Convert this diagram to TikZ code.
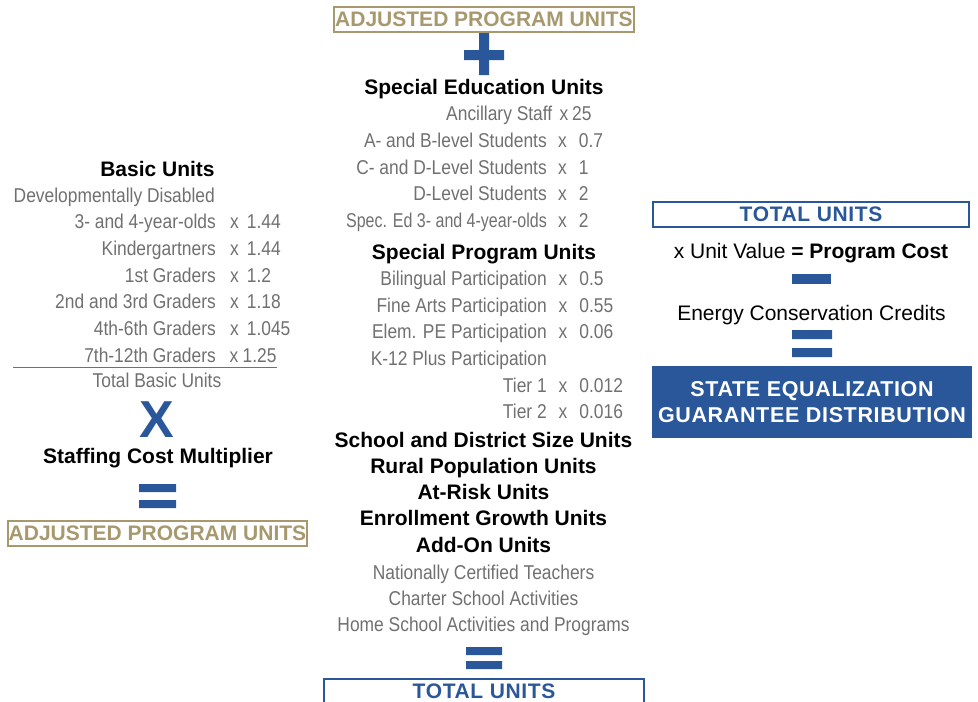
\documentclass[tikz,border=0pt]{standalone}
\usepackage{fontspec}
\setmainfont{Liberation Sans}
\newfontfamily\narrowfont[FakeStretch=0.87]{Liberation Sans}
\usepackage{tikz}
\usetikzlibrary{positioning}
\definecolor{unitblue}{RGB}{42,87,153}
\definecolor{unitgold}{RGB}{167,152,110}
\definecolor{unitgray}{RGB}{112,112,112}

\begin{document}
\begin{tikzpicture}
[x=1pt, y=-1pt,
headline/.style={inner sep=0pt, anchor=base, font=\fontsize{21}{25}\selectfont\bfseries},
plainline/.style={inner sep=0pt, anchor=base, font=\fontsize{21}{25}\selectfont},
itemline/.style={inner sep=0pt, anchor=base, text=unitgray, font=\fontsize{20}{24}\narrowfont},
itemname/.style={itemline, anchor=base east},
factor/.style={itemline, anchor=base west},
unitbox/.style={line width=2pt, inner sep=0pt, minimum height=25, font=\fontsize{21}{25}\selectfont\bfseries},
goldbox/.style={unitbox, draw=unitgold, text=unitgold},
bluebox/.style={unitbox, draw=unitblue, text=unitblue, font=\fontsize{21}{25}\selectfont\bfseries\addfontfeatures{LetterSpace=3}},
bar/.style={fill=unitblue},]
    \useasboundingbox (0,0) rectangle (978,702);

    % left column: basic units
    \node (basic) [headline] at (157.5,176) {Basic Units};
    \node (devdis) [itemline, anchor=base west] at (13.5,202.2) {Developmentally Disabled};
    \foreach \name/\y/\txt/\xat/\gap/\val in {
        age34/228.9/{3- and 4-year-olds}/230/8/1.44,
        kinder/255.5/Kindergartners/230/8/1.44,
        first/282.2/1st Graders/230/8/1.2,
        second/308.9/2nd and 3rd Graders/230/8/1.18,
        fourth/335.5/4th-6th Graders/230/8/1.045,
        seventh/362.2/7th-12th Graders/229.3/4.5/1.25}
    {
        \node (\name) [itemname] at (216,\y) {\txt};
        \node (\name-x) [factor] at (\xat,\y) {x\hspace{\gap pt}\val};
    }
    \draw [unitgray, line width=1.3pt] (13,367.7) -- (277,367.7);
    \node (totalbasic) [itemline] at (157,387.2) {Total Basic Units};
    \node (times) [inner sep=0pt, anchor=base, text=unitblue, font=\fontsize{52}{52}\selectfont\bfseries] at (156.5,437.5) {X};
    \node (staffing) [headline] at (158,463.5) {Staffing Cost Multiplier};
    \fill [bar] (139,484) rectangle (176,492) (139,500) rectangle (176,508);
    \node (apuleft) [goldbox, minimum width=299] at (157.5,533.5) {ADJUSTED PROGRAM UNITS};

    % middle column
    \node (aputop) [goldbox, minimum width=300] at (484,19.5) {ADJUSTED PROGRAM UNITS};
    \fill [bar] (464,50) rectangle (504,60) (479,33) rectangle (489,75);
    \node (specialed) [headline] at (484,94.5) {Special Education Units};
    \node (ancillary) [itemname] at (552.5,120.9) {Ancillary Staff};
    \node (ancillary-x) [factor] at (559.3,120.9) {x\hspace{4pt}25};
    \foreach \name/\y/\txt/\val in {
        levelab/147.5/{A- and B-level Students}/0.7,
        levelcd/174.1/{C- and D-Level Students}/1,
        leveld/200.7/D-Level Students/2}
    {
        \node (\name) [itemname] at (547,\y) {\txt};
        \node (\name-x) [factor] at (558,\y) {x\hspace{12pt}\val};
    }
    \node (spec34) [itemname, font=\fontsize{20}{24}\narrowfont\addfontfeatures{FakeStretch=0.8}] at (547,227.3) {Spec. Ed 3- and 4-year-olds};
    \node (spec34-x) [factor] at (558,227.3) {x\hspace{12pt}2};
    \node (specialprog) [headline] at (484,259.2) {Special Program Units};
    \foreach \name/\y/\txt/\val in {
        bilingual/285.5/Bilingual Participation/0.5,
        finearts/312.2/Fine Arts Participation/0.55,
        elempe/338.9/Elem. PE Participation/0.06,
        tierone/392.2/Tier 1/0.012,
        tiertwo/418.9/Tier 2/0.016}
    {
        \node (\name) [itemname] at (547,\y) {\txt};
        \node (\name-x) [factor] at (558.5,\y) {x\hspace{12pt}\val};
    }
    \node (kplus) [itemname] at (547,365.5) {K-12 Plus Participation};
    \node (sizeunits) [headline] at (483.5,447.5) {School and District Size Units};
    \node (rural) [headline] at (483.5,473.5) {Rural Population Units};
    \node (atrisk) [headline] at (483.5,499.5) {At-Risk Units};
    \node (growth) [headline] at (483.5,525.5) {Enrollment Growth Units};
    \node (addon) [headline] at (483.5,552) {Add-On Units};
    \node (certified) [itemline] at (483.5,579.2) {Nationally Certified Teachers};
    \node (charter) [itemline] at (483.5,605.2) {Charter School Activities};
    \node (homeschool) [itemline] at (483.5,631.7) {Home School Activities and Programs};
    \fill [bar] (466,647) rectangle (502,655) (466,661) rectangle (502,669);
    % bottom box runs off the page
    \node (totalmid) [inner sep=0pt, text=unitblue, font=\fontsize{21}{25}\selectfont\bfseries\addfontfeatures{LetterSpace=3}] at (484,691) {TOTAL UNITS};
    \draw [unitblue, line width=2pt] (324,708) |- (644,679) -- (644,708);

    % right column
    \node (totalright) [bluebox, minimum width=316] at (811,214.5) {TOTAL UNITS};
    \node (unitvalue) [plainline] at (811,258) {x Unit Value \textbf{= Program Cost}};
    \fill [bar] (792,274) rectangle (831,284);
    \node (energy) [plainline] at (811.5,320) {Energy Conservation Credits};
    \fill [bar] (792,330) rectangle (832,339) (792,348) rectangle (832,357);
    \node (guarantee) [fill=unitblue, text=white, inner sep=0pt, minimum width=320, minimum height=72,
        align=center, font=\fontsize{21.5}{26.5}\selectfont\bfseries\addfontfeatures{LetterSpace=3}] at (812,402) {STATE EQUALIZATION\\GUARANTEE DISTRIBUTION};
\end{tikzpicture}
\end{document}
